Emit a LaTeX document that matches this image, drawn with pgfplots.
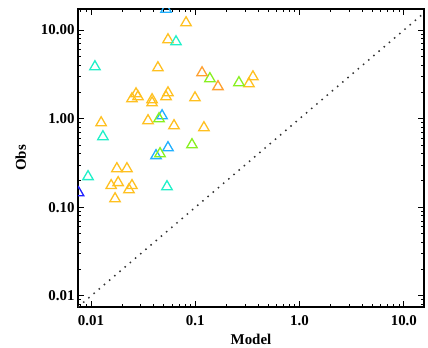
\documentclass[border=0pt]{standalone}
\usepackage{fontspec}
\setmainfont{Liberation Serif}
\usepackage{pgfplots}
\pgfplotsset{compat=1.18}
\definecolor{cyel}{HTML}{FFC020}
\definecolor{corg}{HTML}{FFA030}
\definecolor{cgrn}{HTML}{88F020}
\definecolor{ccyn}{HTML}{20F0C8}
\definecolor{csky}{HTML}{20B0FF}
\definecolor{cblu}{HTML}{2020FF}
\begin{document}
\begin{tikzpicture}
\path[use as bounding box] (0,0) rectangle (428bp,348bp);
\begin{axis}[
  at={(78bp,41bp)}, anchor=south west,
  scale only axis, width=346bp, height=298bp,
  xmode=log, ymode=log,
  xmin=0.0075, xmax=15.6, ymin=0.0075, ymax=17.3,
  xtick={0.01,0.1,1,10}, xticklabels={0.01,0.1,1.0,10.0},
  ytick={0.01,0.1,1,10}, yticklabels={0.01,0.10,1.00,10.00},
  minor xtick={0.008,0.009,0.02,0.03,0.04,0.05,0.06,0.07,0.08,0.09,0.2,0.3,0.4,0.5,0.6,0.7,0.8,0.9,2,3,4,5,6,7,8,9},
  minor ytick={0.008,0.009,0.02,0.03,0.04,0.05,0.06,0.07,0.08,0.09,0.2,0.3,0.4,0.5,0.6,0.7,0.8,0.9,2,3,4,5,6,7,8,9},
  tick align=inside, major tick length=6bp, minor tick length=3bp,
  every tick/.style={black, line width=1bp},
  axis line style={line width=1.2bp},
  tick label style={font=\fontsize{15}{17}\selectfont\bfseries},
  /pgf/number format/assume math mode=true,
  xticklabel style={yshift=-5bp},
  xlabel={Model}, ylabel={Obs},
  label style={font=\fontsize{15}{17}\selectfont\bfseries},
  xlabel style={yshift=-2bp},
  ylabel style={yshift=8bp},
  clip=true, clip marker paths=true,
  every axis plot/.append style={only marks, mark=triangle, mark size=6bp, line width=1.3bp},
]
\addplot[black!80, line width=1.5bp, dash pattern=on 1.5bp off 5.3bp, no marks, sharp plot] coordinates {(0.0075,0.0075) (20,20)};
\addplot[cyel] coordinates {
(0.0815,12.1) (0.0547,7.78) (0.0438,3.76) (0.357,2.97) (0.327,2.48) (0.0993,1.72)
(0.0247,1.68) (0.0270,1.91) (0.0282,1.77) (0.0385,1.64) (0.0385,1.51) (0.0524,1.77) (0.0547,1.96)
(0.0125,0.90) (0.0352,0.95) (0.0625,0.834) (0.121,0.792)
(0.0177,0.273) (0.0221,0.273) (0.0156,0.176) (0.0182,0.190) (0.0247,0.176) (0.0231,0.158) (0.0170,0.125)
};
\addplot[ccyn] coordinates {(0.0653,7.38) (0.0109,3.86) (0.0130,0.627) (0.00936,0.222) (0.0535,0.171)};
\addplot[csky] coordinates {(0.0524,17.2) (0.0480,1.08) (0.0547,0.471) (0.0420,0.383)};
\addplot[cgrn] coordinates {(0.138,2.83) (0.262,2.55) (0.0449,1.0) (0.0929,0.509) (0.0459,0.403)};
\addplot[corg] coordinates {(0.116,3.30) (0.165,2.30)};
\addplot[cblu] coordinates {(0.0076,0.146)};
\end{axis}
\end{tikzpicture}
\end{document}
